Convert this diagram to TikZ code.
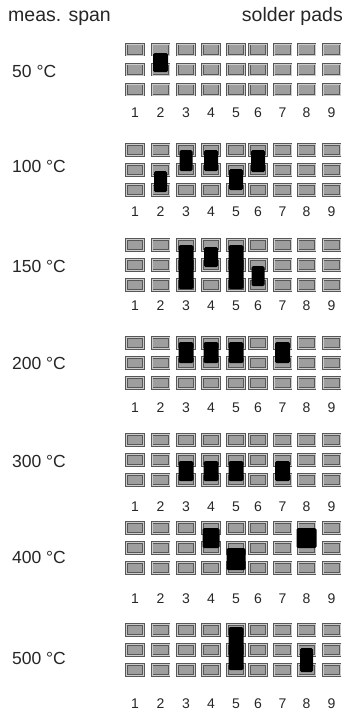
\documentclass[tikz,border=0pt]{standalone}
\usepackage{fontspec}
\setmainfont{Liberation Sans}
\usetikzlibrary{calc}

\begin{document}
\begin{tikzpicture}[
    x=1pt, y=-1pt,
    pad/.style={draw=black!66, double=black!20, double distance=0.8pt, line width=0.9pt, fill=black!38, minimum width=17pt, minimum height=11pt, inner sep=0pt},
    bridge/.style={fill=black, rounded corners=1.5pt},
    head/.style={font=\fontsize{19.5}{22}\selectfont, text=black!85, inner sep=0pt},
    temp/.style={font=\fontsize{17.5}{20}\selectfont, text=black!85, inner sep=0pt, anchor=west},
    num/.style={font=\fontsize{14}{16}\selectfont, text=black!85, inner sep=0pt}
]
\useasboundingbox (0,0) rectangle (346,713);
\node[head, anchor=base west] (span) at (8,21) {meas. span};
\node[head, anchor=base east] (pads) at (343,21) {solder pads};

% one panel per temperature: 3 x 9 pads, pin numbers below
\foreach \i/\py/\tc/\ny/\ly in {1/49.5/50/63/22, 2/150/100/62/16.5, 3/245/150/61/21, 4/343/200/65/20, 5/440/300/67/21, 6/528/400/71/29, 7/630/500/74/28}{
  \node[temp] (t\i) at (12,\py+\ly) {\tc{} °C};
  \foreach \c/\x in {1/135,2/160.5,3/186,4/211,5/236,6/258,7/282.5,8/306.5,9/331.5}{
    \foreach \r in {1,2,3}
      \node[pad] (p\i-\r-\c) at (\x,{\py+20*(\r-1)}) {};
    \node[num] (n\i-\c) at (\x,\py+\ny) {\c};
  }
}

% molten bridges: panel/pin/from row/to row/half width/top offset/bottom offset
\foreach \i/\c/\a/\b/\w/\u/\v in {1/2/1/2/7.5/3.5/2.5,
    2/3/1/2/6.5/0/1, 2/4/1/2/7/0/1, 2/6/1/2/7/0/2, 2/2/2/3/6.5/1/2, 2/5/2/3/7/-1/0,
    3/3/1/3/7.5/0/4, 3/4/1/2/7/2/2, 3/5/1/3/7.5/0/4, 3/6/2/3/6.5/1/1,
    4/3/1/2/7.5/-1/0, 4/4/1/2/7.5/-1/0, 4/5/1/2/7.5/-1/0, 4/7/1/2/7.5/-1/0,
    5/3/2/3/7.5/1/1, 5/4/2/3/7.5/1/1, 5/5/2/3/7.5/1/1, 5/7/2/3/7.5/1/1,
    6/4/1/2/8.5/0/0, 6/8/1/2/10/0/0, 6/5/2/3/9.5/0/2,
    7/5/1/3/7.5/-3/0, 7/8/2/3/6.5/-2/2}
  \fill[bridge] ($(p\i-\a-\c)+(-\w,\u)$) rectangle ($(p\i-\b-\c)+(\w,\v)$);
\end{tikzpicture}
\end{document}
